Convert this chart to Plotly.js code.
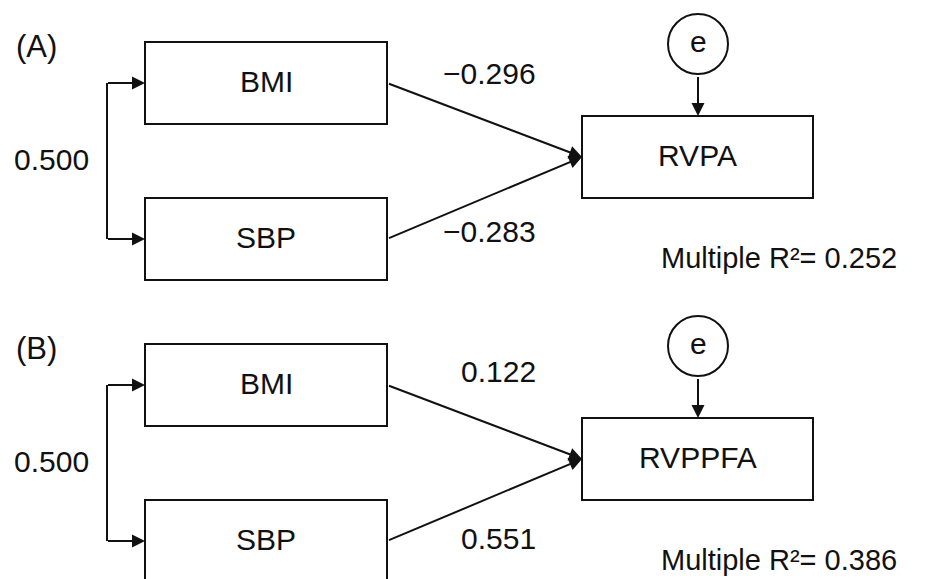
<!DOCTYPE html>
<html>
<head>
<meta charset="utf-8">
<script src="https://cdn.plot.ly/plotly-3.0.1.min.js"></script>
<style>html,body{margin:0;padding:0;background:#fff;}#chart{width:929px;height:579px;}</style>
</head>
<body>
<div id="chart"></div>
<script>
// ---- data (text content of the path diagram) ----
const panelLabels = ['(A)', '(B)'];
const predictors = ['BMI', 'SBP'];
const outcomes = ['RVPA', 'RVPPFA'];
const correlations = ['0.500', '0.500'];
const pathFromBMI = ['\u22120.296', '0.122'];
const pathFromSBP = ['\u22120.283', '0.551'];
const multipleR2 = ['0.252', '0.386'];
const errorLabel = 'e';

// ---- layout geometry (pixels, y downward) ----
const W = 929, H = 579;
const panelOffset = [0, 302];
const coefLabelY = [[75, 233], [373, 540]];
const ink = '#111111';
const FONT = 'Liberation Sans, Arial, Helvetica, sans-serif';
const FS = 30;
const TY = -2; // small vertical nudge so glyph centres match

const shapes = [];
const annotations = [];

function txt(x, y, text, xanchor, size) {
  annotations.push({x: x, y: y + TY, xref: 'x', yref: 'y', text: text, showarrow: false,
    xanchor: xanchor || 'center', yanchor: 'middle',
    font: {family: FONT, size: size || FS, color: ink}});
}
function arrow(x0, y0, x1, y1) {
  annotations.push({x: x1, y: y1, ax: x0, ay: y0, xref: 'x', yref: 'y', axref: 'x', ayref: 'y',
    text: ' ', showarrow: true, arrowhead: 2, arrowsize: 1.3, arrowwidth: 2, arrowcolor: ink,
    standoff: 0, startstandoff: 0, font: {size: 2}});
}
function rect(x0, y0, x1, y1) {
  shapes.push({type: 'rect', xref: 'x', yref: 'y', x0: x0, x1: x1, y0: y0, y1: y1,
    line: {color: ink, width: 2}, fillcolor: 'rgba(0,0,0,0)'});
}
function line(x0, y0, x1, y1) {
  shapes.push({type: 'line', xref: 'x', yref: 'y', x0: x0, x1: x1, y0: y0, y1: y1,
    line: {color: ink, width: 2}});
}

panelLabels.forEach(function (lab, i) {
  const o = panelOffset[i];
  const px0 = 145, px1 = 387;
  const bmiY0 = 42 + o, bmiY1 = 124 + o;
  const sbpY0 = 198 + o, sbpY1 = 280 + o;
  const bmiMid = (bmiY0 + bmiY1) / 2, sbpMid = (sbpY0 + sbpY1) / 2;
  const ox0 = 582, ox1 = 813, oy0 = 116 + o, oy1 = 198 + o;
  const oMid = (oy0 + oy1) / 2;
  const cx = 698, cy = 44 + o, r = 30;
  const connX = 107;

  rect(px0, bmiY0, px1, bmiY1);
  rect(px0, sbpY0, px1, sbpY1);
  rect(ox0, oy0, ox1, oy1);
  shapes.push({type: 'circle', xref: 'x', yref: 'y', x0: cx - r, x1: cx + r, y0: cy - r, y1: cy + r,
    line: {color: ink, width: 2}});

  // correlation connector
  line(connX, bmiMid, connX, sbpMid);
  arrow(connX - 1, bmiMid, px0, bmiMid);
  arrow(connX - 1, sbpMid, px0, sbpMid);
  // regression paths
  arrow(px1, bmiMid, ox0, oMid);
  arrow(px1, sbpMid, ox0, oMid);
  // error term
  arrow(cx, cy + r, cx, oy0);

  txt(14, 48 + o, lab, 'left', 31);
  txt((px0 + px1) / 2, bmiMid, predictors[0]);
  txt((px0 + px1) / 2, sbpMid, predictors[1]);
  txt((ox0 + ox1) / 2, oMid, outcomes[i]);
  txt(cx, cy - 1, errorLabel);
  txt(12, (bmiMid + sbpMid) / 2, correlations[i], 'left');
  txt(538, coefLabelY[i][0], pathFromBMI[i], 'right');
  txt(538, coefLabelY[i][1], pathFromSBP[i], 'right');
  txt(899, 260 + o, 'Multiple R\u00B2= ' + multipleR2[i], 'right', 29);
});

const layout = {
  width: W, height: H,
  margin: {l: 0, r: 0, t: 0, b: 0, pad: 0},
  paper_bgcolor: '#ffffff', plot_bgcolor: '#ffffff',
  showlegend: false,
  xaxis: {range: [0, W], visible: false, fixedrange: true},
  yaxis: {range: [H, 0], visible: false, fixedrange: true},
  shapes: shapes,
  annotations: annotations
};

Plotly.newPlot('chart', [], layout, {staticPlot: true, displayModeBar: false});
</script>
</body>
</html>
